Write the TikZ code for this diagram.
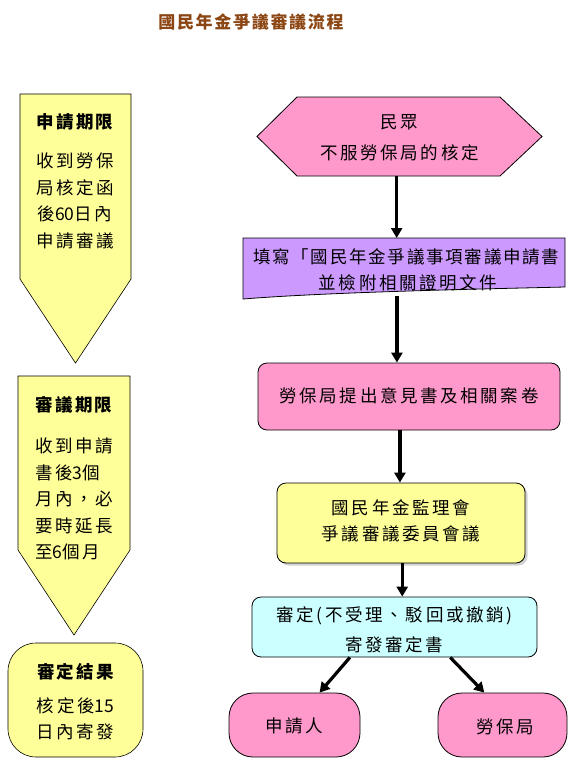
\documentclass[tikz,border=0pt]{standalone}
\usepackage{fontspec}
\setmainfont{Noto Sans CJK TC}
\usetikzlibrary{arrows.meta,calc,shadows}
\definecolor{yel}{HTML}{FFFF99}
\definecolor{pnk}{HTML}{FF99CC}
\definecolor{purp}{HTML}{CC99FF}
\definecolor{cyn}{HTML}{CCFFFF}
\definecolor{ttl}{RGB}{140,70,20}
\newcommand{\nsp}[1]{{\addfontfeature{LetterSpace=0}#1}}
\tikzset{
  bx/.style={draw=black, line width=0.8pt},
  txt/.style={font=\fontsize{17.5}{26.5}\selectfont\addfontfeature{LetterSpace=15}, align=center, inner sep=0pt},
  hd/.style={font=\fontsize{17.5}{26}\selectfont\bfseries\addfontfeature{LetterSpace=12}, align=center, inner sep=0pt},
  flow/.style={line width=3.2pt, -{Triangle[length=10pt,width=11pt]}},
  area/.style={inner sep=0pt, outer sep=0pt}
}
\begin{document}
\begin{tikzpicture}[x=1pt,y=-1pt]
\useasboundingbox[fill=white] (0,0) rectangle (583,766);

% title
\node (title) [font=\fontsize{17}{20}\selectfont\bfseries\addfontfeature{LetterSpace=10}, text=ttl, inner sep=0pt] at (251,22) {國民年金爭議審議流程};

% left column: arrow 1
\node (lim1) [area, minimum width=111pt, minimum height=269pt] at (75.5,228.5) {};
\draw[bx, line width=0.6pt, fill=yel] (lim1.north west) -- (lim1.north east) -- (131,279) -- (lim1.south) -- (20,279) -- cycle;
\node (lim1h) [hd] at (75,122) {申請期限};
\node (lim1t) [txt, anchor=north] at (75,153) {收到勞保\\局核定函\\後\nsp{60}日內\\申請審議};

% left column: arrow 2
\node (lim2) [area, minimum width=112pt, minimum height=259pt] at (74,505.5) {};
\draw[bx, line width=0.6pt, fill=yel] (lim2.north west) -- (lim2.north east) -- (130,550) -- (lim2.south) -- (18,550) -- cycle;
\node (lim2h) [hd] at (74,405) {審議期限};
\node (lim2t) [txt, anchor=north, align=left] at (74,438) {收到申請\\書後\nsp{3}個\\月內，必\\要時延長\\至\nsp{6}個月};

% left column: result
\node (res) [bx, line width=0.6pt, fill=yel, rounded corners=28pt, minimum width=135pt, minimum height=114pt] at (75.5,700) {};
\node (resh) [hd] at (75.5,672) {審定結果};
\node (rest) [txt, anchor=north] at (75.5,697) {核定後\nsp{15}\\日內寄發};

% hexagon
\node (hex) [area, minimum width=285pt, minimum height=79pt] at (399.5,136.5) {};
\draw[bx, fill=pnk] (hex.west) -- ($(hex.north west)+(40,0)$) -- ($(hex.north east)+(-42,0)$) -- (hex.east) -- ($(hex.south east)+(-42,0)$) -- ($(hex.south west)+(40,0)$) -- cycle;
\node (hext) [txt] at (399.5,137.5) {民眾\\[4pt]不服勞保局的核定};

% purple manual input box
\node (pur) [area, minimum width=322pt, minimum height=61pt] at (404,268.5) {};
\draw[bx, fill=purp] (pur.north west) -- (pur.north east) -- (565,287) .. controls (480,289) and (330,292) .. (pur.south west) -- cycle;
\node (purt1) [anchor=west, inner sep=0pt, font=\fontsize{17.5}{20}\selectfont\addfontfeature{LetterSpace=10}] at (253,257) {填寫「國民年金爭議事項審議申請書};
\node (purt2) [txt] at (408,283) {並檢附相關證明文件};

% pink box
\node (opn) [bx, fill=pnk, rounded corners=9pt, minimum width=302pt, minimum height=67pt] at (409,396.5) {};
\node (opnt) [txt] at (409,396) {勞保局提出意見書及相關案卷};

% yellow committee box
\node (com) [bx, fill=yel, rounded corners=9pt, minimum width=248pt, minimum height=80pt, drop shadow={shadow xshift=2.5pt, shadow yshift=-2.5pt, opacity=0.35}] at (401,523) {};
\node (comt) [txt] at (401,521) {國民年金監理會\\爭議審議委員會議};

% cyan decision box
\node (dec) [bx, fill=cyn, rounded corners=9pt, minimum width=285pt, minimum height=60pt] at (394.5,627) {};
\node (dect) [txt] at (394.5,630) {審定(不受理、駁回或撤銷)\\[3pt]寄發審定書};

% bottom terminals
\node (app) [bx, fill=pnk, rounded corners=24pt, minimum width=131pt, minimum height=64pt] at (294.5,725) {};
\node (appt) [txt] at (294.5,726) {申請人};
\node (bli) [bx, fill=pnk, rounded corners=24pt, minimum width=129pt, minimum height=64pt] at (502.5,725) {};
\node (blit) [txt] at (505,727) {勞保局};

% connectors
\coordinate (h1) at ($(hex.south west)!0.49!(hex.south east)$);
\draw[flow] (h1) -- (h1 |- pur.north);
\coordinate (p1) at ($(pur.south west)!0.478!(pur.south east)$);
\draw[flow] ($(p1)+(0,-3)$) -- (p1 |- opn.north);
\coordinate (o1) at ($(opn.south west)!0.47!(opn.south east)$);
\draw[flow] (o1) -- (o1 |- com.north);
\coordinate (c1) at ($(com.south west)!0.505!(com.south east)$);
\draw[flow] (c1) -- (c1 |- dec.north);
\draw[flow] ($(dec.south west)!0.344!(dec.south east)$) -- ($(app.north west)!0.69!(app.north east)$);
\draw[flow] ($(dec.south west)!0.695!(dec.south east)$) -- ($(bli.north west)!0.36!(bli.north east)$);
\end{tikzpicture}
\end{document}
